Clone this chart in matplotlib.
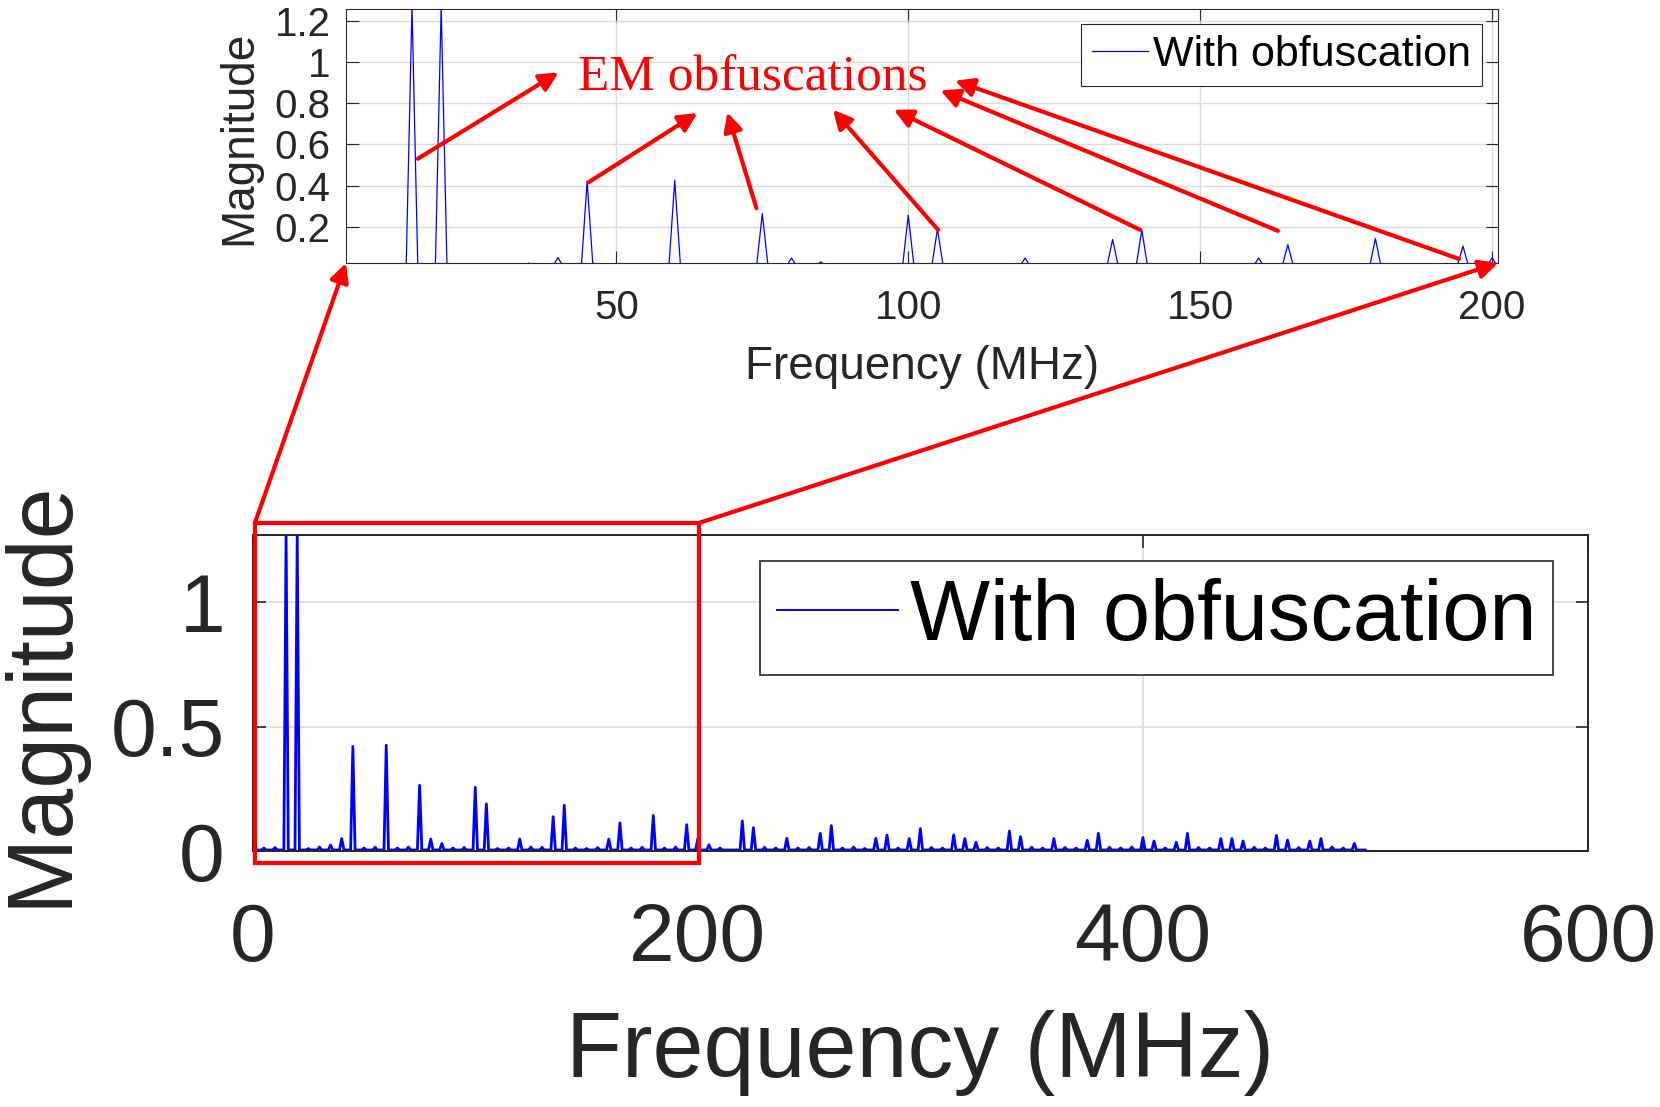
import numpy as np
import matplotlib
matplotlib.use("Agg")
import matplotlib.pyplot as plt
from matplotlib.patches import Rectangle
from matplotlib.transforms import blended_transform_factory

plt.rcParams['font.family'] = ['Liberation Sans', 'DejaVu Sans']

# spectrum (1 MHz bins, 0..500 MHz)
freq = np.arange(0, 501)
baseline = 0.004
peak_freqs = [15, 20, 40, 45, 60, 75, 80, 85, 100, 105,
              120, 135, 140, 160, 165, 180, 195, 200, 220, 225,
              240, 255, 260, 280, 285, 295, 300, 315, 320, 325,
              340, 345, 360, 375, 380, 400, 405, 415, 420, 435,
              440, 445, 460, 465, 475, 480, 495]
peak_vals = [1.27, 1.27, 0.05, 0.42, 0.425, 0.264, 0.048, 0.03, 0.256, 0.189,
             0.048, 0.138, 0.184, 0.048, 0.113, 0.143, 0.106, 0.05, 0.121, 0.094,
             0.051, 0.071, 0.102, 0.051, 0.064, 0.05, 0.09, 0.065, 0.05, 0.035,
             0.08, 0.058, 0.05, 0.043, 0.071, 0.054, 0.04, 0.035, 0.071, 0.05,
             0.05, 0.04, 0.063, 0.044, 0.04, 0.05, 0.03]
minor_freqs = [0, 5, 10, 25, 30, 35, 50, 55, 65, 70, 90, 95, 110, 115, 125, 130,
               145, 150, 155, 170, 175, 185, 190, 205, 210, 230, 235, 245, 250,
               265, 270, 275, 290, 305, 310, 330, 335, 350, 355, 365, 370, 385,
               390, 395, 410, 425, 430, 450, 455, 470, 485, 490]
minor_vals = [0.04, 0.012, 0.014, 0.01, 0.016, 0.024, 0.012, 0.015, 0.012, 0.016,
              0.012, 0.014, 0.01, 0.012, 0.016, 0.015, 0.012, 0.01, 0.014, 0.012,
              0.015, 0.012, 0.016, 0.025, 0.012, 0.015, 0.012, 0.012, 0.014,
              0.012, 0.016, 0.01, 0.012, 0.014, 0.012, 0.014, 0.012, 0.015, 0.012,
              0.014, 0.012, 0.015, 0.012, 0.016, 0.012, 0.014, 0.012, 0.015,
              0.012, 0.014, 0.016, 0.012]

mag = np.full(len(freq), baseline)
mag[minor_freqs] = minor_vals
mag[peak_freqs] = peak_vals

# arrows in the zoomed view: (tail freq, tail mag) -> (head freq, head mag)
arrow_tails = [(16, 0.53), (45.2, 0.415), (74, 0.29), (105.1, 0.185),
               (139.7, 0.185), (163.3, 0.18), (194.3, 0.044)]
arrow_heads = [(40.1, 0.949), (63.9, 0.752), (69, 0.755), (87.1, 0.768),
               (97.5, 0.768), (105.5, 0.862), (108, 0.909)]

W, H = 1660, 1107
fig = plt.figure(figsize=(W / 100, H / 100), dpi=100)
dark = '#262626'
grid_c = '#dcdcdc'


def px_axes(l, t, r, b):
    return fig.add_axes([l / W, 1 - b / H, (r - l) / W, (b - t) / H])


# ---- zoomed view (top) ----
ax1 = px_axes(346, 9, 1498, 263)
ax1.plot(freq, mag, color='blue', lw=0.9, label='With obfuscation')
ax1.set_xlim(3.7, 201)
ax1.set_ylim(0.024, 1.257)
ax1.set_xticks([50, 100, 150, 200])
ax1.set_yticks([0.2, 0.4, 0.6, 0.8, 1.0, 1.2])
ax1.set_yticklabels(['0.2', '0.4', '0.6', '0.8', '1', '1.2'])
ax1.tick_params(direction='in', top=True, right=True, length=9, width=0.8,
                labelsize=29, colors=dark, labelcolor=dark)
ax1.tick_params(axis='x', pad=19)
ax1.tick_params(axis='y', pad=11)
ax1.grid(True, color=grid_c, lw=1.0)
ax1.set_axisbelow(True)
for s in ax1.spines.values():
    s.set_color(dark)
    s.set_linewidth(0.8)
ax1.set_xlabel('Frequency (MHz)', fontsize=33, color=dark, va='center')
ax1.xaxis.set_label_coords(0.5, -0.41)
ax1.set_ylabel('Magnitude', fontsize=33, color=dark, va='center')
ax1.yaxis.set_label_coords(-0.093, 0.494)
leg1 = ax1.legend(loc='upper right', bbox_to_anchor=(1482 / W, 1 - 24 / H),
                  bbox_transform=fig.transFigure, borderaxespad=0, fontsize=31,
                  fancybox=False, framealpha=1, edgecolor=dark, borderpad=0.25,
                  handlelength=1.3, handletextpad=0.12)
leg1.get_frame().set_linewidth(0.8)

ax1.text(73.4, 0.92, 'EM obfuscations', color='red', fontsize=37,
         family='Liberation Serif', ha='center', va='center')
for tail, head in zip(arrow_tails, arrow_heads):
    ax1.annotate('', xy=head, xytext=tail, annotation_clip=False,
                 arrowprops=dict(arrowstyle='-|>', color='red', lw=3,
                                 mutation_scale=28, shrinkA=0, shrinkB=0))

# ---- full spectrum (bottom) ----
ax2 = px_axes(252.7, 535, 1588, 851)
ax2.plot(freq, mag, color='blue', lw=2.0, label='With obfuscation')
ax2.set_xlim(0, 600)
ax2.set_ylim(0, 1.27)
ax2.set_xticks([0, 200, 400, 600])
ax2.set_yticks([0, 0.5, 1])
ax2.set_yticklabels(['0', '0.5', '1'])
ax2.tick_params(direction='in', top=True, right=True, length=9, width=1.2,
                labelsize=59, colors=dark, labelcolor=dark)
ax2.tick_params(axis='x', pad=37)
ax2.tick_params(axis='y', pad=20)
ax2.grid(True, color=grid_c, lw=1.2)
ax2.set_axisbelow(True)
for s in ax2.spines.values():
    s.set_color(dark)
    s.set_linewidth(1.4)
ax2.set_xlabel('Frequency (MHz)', fontsize=66, color=dark, va='center')
ax2.xaxis.set_label_coords(0.5, -0.64)
ax2.set_ylabel('Magnitude', fontsize=66, color=dark, va='center')
ax2.yaxis.set_label_coords(-0.158, 0.498)
leg2 = ax2.legend(loc='upper right', bbox_to_anchor=(1553 / W, 1 - 561 / H),
                  bbox_transform=fig.transFigure, borderaxespad=0, fontsize=61,
                  fancybox=False, framealpha=1, edgecolor=dark, borderpad=0.2,
                  handlelength=1.42, handletextpad=0.14)
leg2.get_frame().set_linewidth(1.2)
leg2.get_lines()[0].set_linewidth(1.4)

# zoom box and connectors
blend = blended_transform_factory(ax2.transData, ax2.transAxes)
ax2.add_patch(Rectangle((1, -0.038), 199.5, 1.076, transform=blend, fill=False,
                        edgecolor='red', lw=3, clip_on=False, zorder=5))
for corner_top, corner_box in [((0, 0), (1, 1.038)), ((1, 0), (200.5, 1.038))]:
    ax2.annotate('', xy=corner_top, xycoords=ax1.transAxes,
                 xytext=corner_box, textcoords=blend, annotation_clip=False,
                 arrowprops=dict(arrowstyle='-|>', color='red', lw=3,
                                 mutation_scale=28, shrinkA=0, shrinkB=0))

fig.savefig('out.png', dpi=100)
